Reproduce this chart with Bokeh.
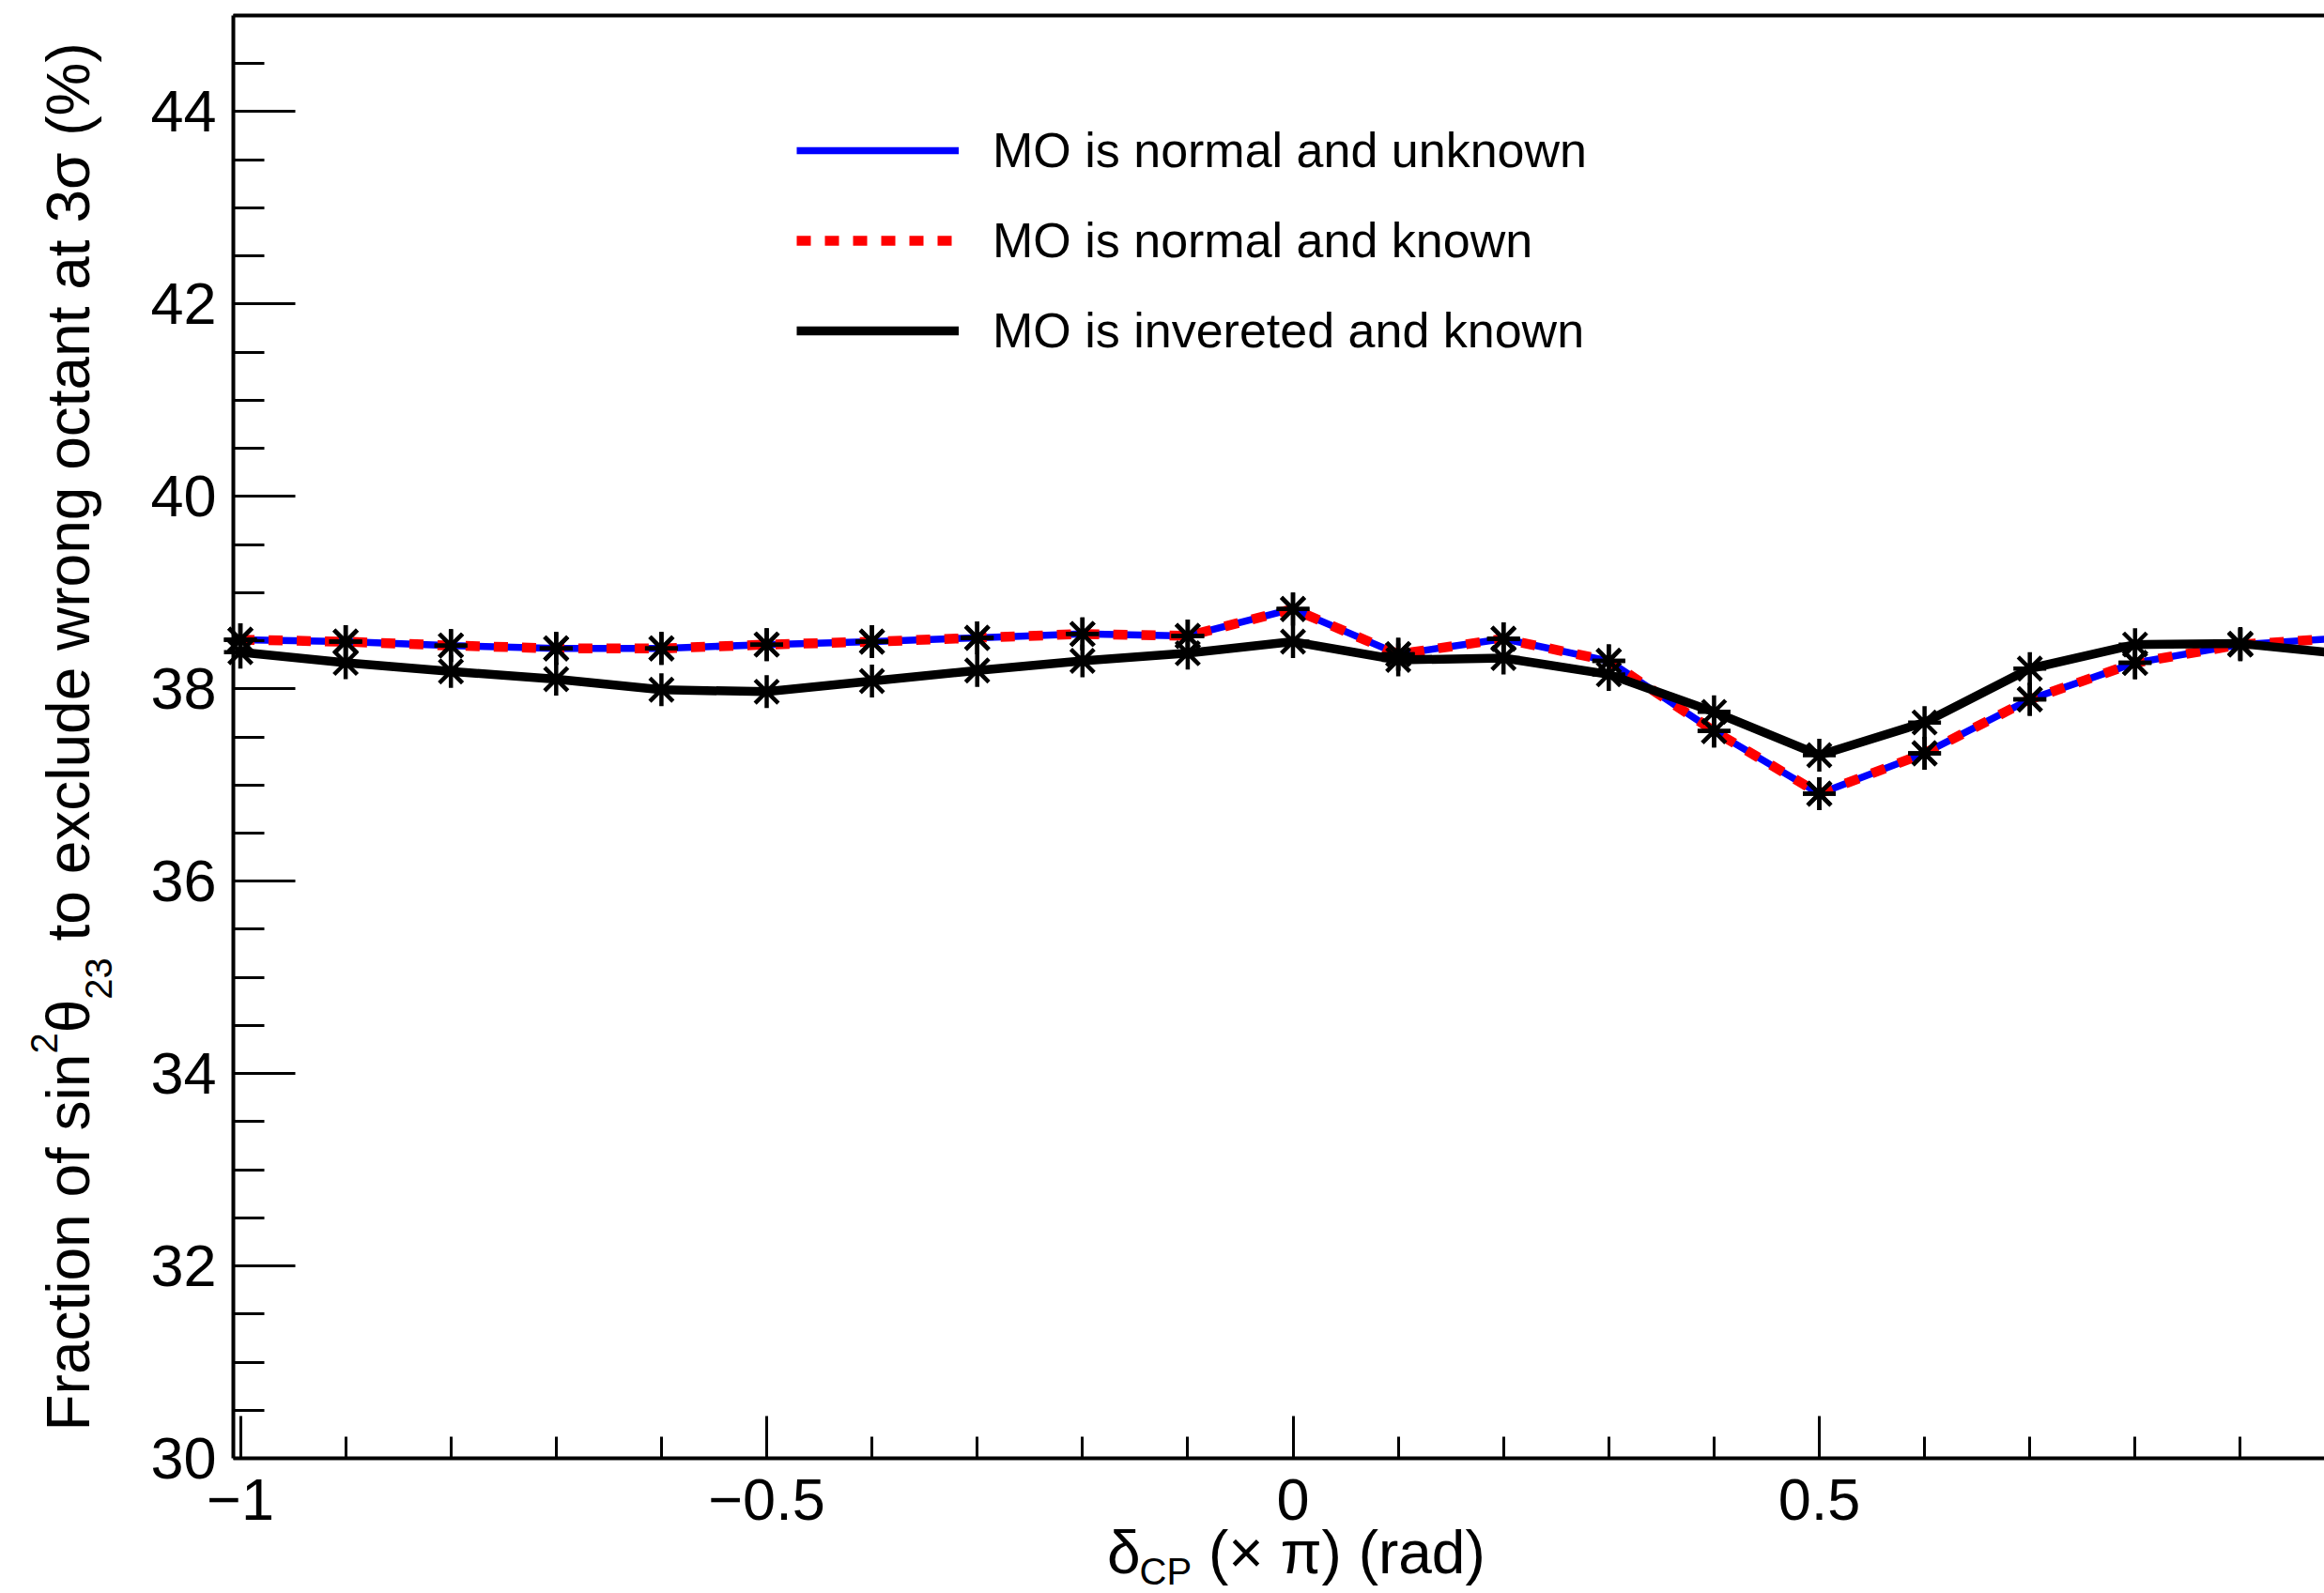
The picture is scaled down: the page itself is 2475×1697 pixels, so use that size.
import math
from bokeh.plotting import figure
from bokeh.models import (Range1d, FixedTicker, LinearAxis, Label, Legend, LegendItem,
                          CustomJSTickFormatter)
from bokeh.embed import file_html
from bokeh.resources import INLINE

# ---------------- data ----------------
delta_cp = [-1.0, -0.9, -0.8, -0.7, -0.6, -0.5, -0.4, -0.3, -0.2, -0.1, 0.0,
            0.1, 0.2, 0.3, 0.4, 0.5, 0.6, 0.7, 0.8, 0.9, 1.0]
mo_normal_unknown = [38.51, 38.49, 38.45, 38.42, 38.42, 38.46, 38.49, 38.53, 38.57, 38.55, 38.83,
                     38.36, 38.52, 38.29, 37.56, 36.91, 37.33, 37.89, 38.27, 38.46, 38.53]
mo_normal_known = [38.51, 38.49, 38.45, 38.42, 38.42, 38.46, 38.49, 38.53, 38.57, 38.55, 38.83,
                   38.36, 38.52, 38.29, 37.56, 36.91, 37.33, 37.89, 38.27, 38.46, 38.53]
mo_inverted_known = [38.38, 38.27, 38.18, 38.10, 37.99, 37.97, 38.08, 38.19, 38.29, 38.37, 38.49,
                     38.30, 38.32, 38.15, 37.76, 37.31, 37.65, 38.21, 38.46, 38.47, 38.36]

legend_labels = ["MO is normal and unknown", "MO is normal and known", "MO is invereted and known"]
x_major_ticks = [-1.0, -0.5, 0.0, 0.5, 1.0]
y_major_ticks = [30, 32, 34, 36, 38, 40, 42, 44]

x_minor_ticks = [round(-1.0 + 0.1 * i, 2) for i in range(21)]
x_minor_ticks = [t for t in x_minor_ticks if t not in x_major_ticks]
y_minor_ticks = [30 + 0.5 * i for i in range(31)]
y_minor_ticks = [t for t in y_minor_ticks if t not in y_major_ticks]

# axes box (data limits of the drawn frame)
X_LO, X_HI = -1.0067, 0.9799
Y_LO, Y_HI = 30.0, 45.0

FONT = "Liberation Sans"
WIDTH, HEIGHT = 2475, 1697

# Arial / Liberation Sans advance widths (per 1000 em) for laying out composed titles
W = {' ': 278, '(': 333, ')': 333, '%': 889, '.': 278, 'F': 611, 'C': 722, 'P': 667,
     'a': 556, 'b': 556, 'c': 500, 'd': 556, 'e': 556, 'f': 278, 'g': 556, 'h': 556,
     'i': 222, 'j': 222, 'k': 500, 'l': 222, 'm': 833, 'n': 556, 'o': 556, 'p': 556,
     'q': 556, 'r': 333, 's': 500, 't': 278, 'u': 556, 'v': 500, 'w': 722, 'x': 500,
     'y': 500, 'z': 500, 'θ': 556, 'σ': 600, 'δ': 540, 'π': 600, '×': 584}


def tw(s, size):
    return sum(W.get(ch, 556) for ch in s) / 1000.0 * size


# the plot frame covers the whole canvas; axes are pinned at the box edges
px_per_x = 1121.0
px_per_y = 1537.0 / 15.0
frame_left_px = 248.0
frame_bottom_px = 1553.0
x_start = X_LO - frame_left_px / px_per_x
x_end = x_start + WIDTH / px_per_x
y_start = Y_LO - (HEIGHT - frame_bottom_px) / px_per_y
y_end = y_start + HEIGHT / px_per_y

p = figure(width=WIDTH, height=HEIGHT, output_backend="svg", toolbar_location=None,
           x_range=Range1d(x_start, x_end), y_range=Range1d(y_start, y_end),
           min_border_left=0, min_border_right=0, min_border_top=0, min_border_bottom=0)
p.grid.visible = False
p.outline_line_color = None
p.background_fill_color = "white"
p.border_fill_color = "white"

xa = p.xaxis[0]
xa.fixed_location = Y_LO
xa.bounds = (X_LO, X_HI)
xa.ticker = FixedTicker(ticks=x_major_ticks, minor_ticks=x_minor_ticks)
xa.formatter = CustomJSTickFormatter(code="return tick < 0 ? '\u2212' + Math.abs(tick) : String(tick);")
xa.major_tick_in = 45
xa.major_tick_out = 0
xa.minor_tick_in = 23
xa.minor_tick_out = 0
xa.major_label_standoff = 22
xa.axis_line_width = 4
xa.major_tick_line_width = 3
xa.minor_tick_line_width = 3
xa.major_label_text_font = FONT
xa.major_label_text_font_size = "63px"
xa.major_label_text_color = "black"

ya = p.yaxis[0]
ya.fixed_location = X_LO
ya.bounds = (Y_LO, Y_HI)
ya.ticker = FixedTicker(ticks=y_major_ticks, minor_ticks=y_minor_ticks)
ya.major_tick_in = 66
ya.major_tick_out = 0
ya.minor_tick_in = 33
ya.minor_tick_out = 0
ya.major_label_standoff = 18
ya.axis_line_width = 4
ya.major_tick_line_width = 3
ya.minor_tick_line_width = 3
ya.major_label_text_font = FONT
ya.major_label_text_font_size = "63px"
ya.major_label_text_color = "black"

top = LinearAxis(ticker=FixedTicker(ticks=[]), major_label_text_font_size="0px",
                 major_tick_line_color=None, minor_tick_line_color=None,
                 major_tick_out=0, minor_tick_out=0, major_label_standoff=0,
                 axis_line_width=4, fixed_location=Y_HI, bounds=(X_LO, X_HI))
p.add_layout(top, "above")

# ---------------- series ----------------
r_blue = p.line(delta_cp, mo_normal_unknown, line_color="#0000ff", line_width=7.5)
r_red = p.line(delta_cp, mo_normal_known, line_color="#ff0000", line_width=10.5, line_dash="15 15")
r_black = p.line(delta_cp, mo_inverted_known, line_color="black", line_width=9.5)
for ys in (mo_normal_unknown, mo_normal_known, mo_inverted_known):
    p.scatter(delta_cp, ys, marker="asterisk", size=35, line_color="black", line_width=4.5)

legend = Legend(items=[LegendItem(label=legend_labels[0], renderers=[r_blue]),
                       LegendItem(label=legend_labels[1], renderers=[r_red]),
                       LegendItem(label=legend_labels[2], renderers=[r_black])],
                location=(848, HEIGHT - 381.5), orientation="vertical",
                glyph_width=173, glyph_height=60, label_height=60, label_width=10,
                spacing=36, padding=0, margin=0, label_standoff=36,
                label_text_font=FONT, label_text_font_size="52px", label_text_color="black",
                border_line_color=None, background_fill_alpha=0)
p.add_layout(legend)

# ---------------- axis titles (composed with sub/superscripts) ----------------
MAIN = 64
SMALL = 40
BASE_K = 0.3465  # baseline correction (fraction of font size) observed for rendered labels


def add_text(txt, x, y, size, angle=0.0):
    p.add_layout(Label(x=x, y=y, x_units="screen", y_units="screen", text=txt, angle=angle,
                       text_font=FONT, text_font_size=f"{size}px", text_align="left",
                       text_baseline="alphabetic", text_color="black"))


# x title: δ_CP (× π) (rad)   (screen coords measured from canvas bottom-left)
x0 = 1178.5
base_y = HEIGHT - 1676 + BASE_K * MAIN
sub_y = HEIGHT - 1687 + BASE_K * SMALL
add_text("δ", x0, base_y, MAIN)
x1 = x0 + tw("δ", MAIN)
add_text("CP", x1, sub_y, SMALL)
x2 = x1 + tw("CP", SMALL) + tw(" ", MAIN)
add_text("(× π) (rad)", x2, base_y, MAIN)

# y title: Fraction of sin^2 θ_23 to exclude wrong octant at 3σ (%)
pieces = [("Fraction of sin", MAIN, 95.0, 0.0),
          ("2", SMALL, 60.0, 0.0),
          ("θ", MAIN, 95.0, 0.0),
          ("23", SMALL, 118.0, 0.0),
          ("to exclude wrong octant at 3σ (%)", MAIN, 95.0, tw(" ", MAIN))]
yy = HEIGHT - 1524.0
for txt, size, bx, lead in pieces:
    yy += lead
    add_text(txt, bx - BASE_K * size, yy, size, angle=math.pi / 2)
    yy += tw(txt, size)

open("out.html", "w").write(file_html(p, INLINE))
